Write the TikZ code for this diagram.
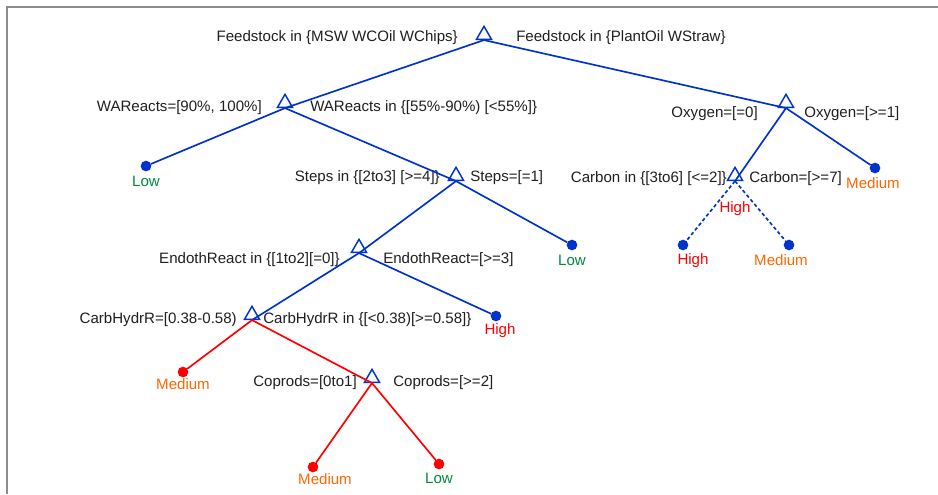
\documentclass[tikz,border=0pt]{standalone}
\usepackage{fontspec}
\setmainfont{Liberation Sans}
\usetikzlibrary{shapes.geometric,positioning}
\definecolor{treeblue}{RGB}{0,51,204}
\definecolor{treered}{RGB}{255,0,0}
\definecolor{treeorange}{RGB}{255,102,0}
\definecolor{treegreen}{RGB}{0,136,64}
\definecolor{framegray}{RGB}{140,140,140}
\tikzset{
    split/.style={draw=treeblue,regular polygon,regular polygon sides=3,minimum size=13pt,inner sep=0pt,line width=1.1pt},
    dot/.style={fill,circle,inner sep=0pt,outer sep=0pt,minimum size=8pt},
    cond/.style={inner sep=0pt,text=black!88,font=\fontsize{11.3}{13}\selectfont},
    leaf/.style={cond,anchor=base},
    line/.style={-,line width=1.25pt,treeblue},
    redline/.style={line,treered},
    dotline/.style={line,dash pattern=on 2.6pt off 1.9pt},
    frame/.style={line width=1.5pt,framegray},
}
\begin{document}
\begin{tikzpicture}[x=0.75pt,y=-0.75pt]
    \useasboundingbox (0,0) rectangle (938,494);
    \draw[frame] (938,7) -- (7,7) -- (7,494);
    % splits
    \node[split] (feed) at (484,35) {};
    \node[split] (wa) at (285,103) {};
    \node[split] (oxy) at (786,103) {};
    \node[split] (steps) at (456,176) {};
    \node[split] (carbon) at (735,176) {};
    \node[split] (endo) at (359,248) {};
    \node[split] (carb) at (252,315) {};
    \node[split] (copr) at (372,378) {};
    % leaves
    \node[dot,treeblue] (lowA) at (146,166) {};
    \node[dot,treeblue] (medB) at (875,168) {};
    \node[dot,treeblue] (lowC) at (572,245) {};
    \node[dot,treeblue] (highD) at (683,245) {};
    \node[dot,treeblue] (medD) at (789,245) {};
    \node[dot,treeblue] (highE) at (496,316) {};
    \node[dot,treered] (medF) at (183,372) {};
    \node[dot,treered] (medG) at (313,467) {};
    \node[dot,treered] (lowG) at (439,464) {};
    \node[leaf,text=treegreen] (lowAt) at (146,186) {Low};
    \node[leaf,text=treeorange] (medBt) at (873,188) {Medium};
    \node[leaf,text=treegreen] (lowCt) at (572,265) {Low};
    \node[leaf,text=treered] (highDt) at (693,264) {High};
    \node[leaf,text=treeorange] (medDt) at (781,265) {Medium};
    \node[leaf,text=treered] (carbont) at (735,212) {High};
    \node[leaf,text=treered] (highEt) at (500,334) {High};
    \node[leaf,text=treeorange] (medFt) at (183,389) {Medium};
    \node[leaf,text=treeorange] (medGt) at (325,484) {Medium};
    \node[leaf,text=treegreen] (lowGt) at (439,483) {Low};
    % conditions
    \node[cond,anchor=base east] (feedL) at (458,41) {Feedstock in \{MSW WCOil WChips\}};
    \node[cond,anchor=base west] (feedR) at (516,41) {Feedstock in \{PlantOil WStraw\}};
    \node[cond,anchor=base east] (waL) at (262,111) {WAReacts=[90\%, 100\%]};
    \node[cond,anchor=base west] (waR) at (310,111) {WAReacts in \{[55\%-90\%) [<55\%]\}};
    \node[cond,anchor=base east] (oxyL) at (758,117) {Oxygen=[=0]};
    \node[cond,anchor=base west] (oxyR) at (804,117) {Oxygen=[>=1]};
    \node[cond,anchor=base east] (stepsL) at (440,181) {Steps in \{[2to3] [>=4]\}};
    \node[cond,anchor=base west] (stepsR) at (470,181) {Steps=[=1]};
    \node[cond,anchor=base east] (carbonL) at (727,182) {Carbon in \{[3to6] [<=2]\}};
    \node[cond,anchor=base west] (carbonR) at (749,182) {Carbon=[>=7]};
    \node[cond,anchor=base east] (endoL) at (340,263) {EndothReact in \{[1to2][=0]\}};
    \node[cond,anchor=base west] (endoR) at (383,263) {EndothReact=[>=3]};
    \node[cond,anchor=base east] (carbL) at (237,323) {CarbHydrR=[0.38-0.58)};
    \node[cond,anchor=base west] (carbR) at (263,323) {CarbHydrR in \{[<0.38)[>=0.58]\}};
    \node[cond,anchor=base east] (coprL) at (357,386) {Coprods=[0to1]};
    \node[cond,anchor=base west] (coprR) at (393,386) {Coprods=[>=2]};
    % branches
    \draw[line] (feed.south) -- (wa.south);
    \draw[line] (feed.south) -- (oxy.south);
    \draw[line] (wa.south) -- (lowA);
    \draw[line] (wa.south) -- (steps.south);
    \draw[line] (oxy.south) -- (carbon.south);
    \draw[line] (oxy.south) -- (medB);
    \draw[line] (steps.south) -- (endo.south);
    \draw[line] (steps.south) -- (lowC);
    \draw[dotline] (carbon.south) -- (highD);
    \draw[dotline] (carbon.south) -- (medD);
    \draw[line] (endo.south) -- (carb.south);
    \draw[line] (endo.south) -- (highE);
    \draw[redline] (carb.south) -- (medF);
    \draw[redline] (carb.south) -- (copr.south);
    \draw[redline] (copr.south) -- (medG);
    \draw[redline] (copr.south) -- (lowG);
\end{tikzpicture}
\end{document}
